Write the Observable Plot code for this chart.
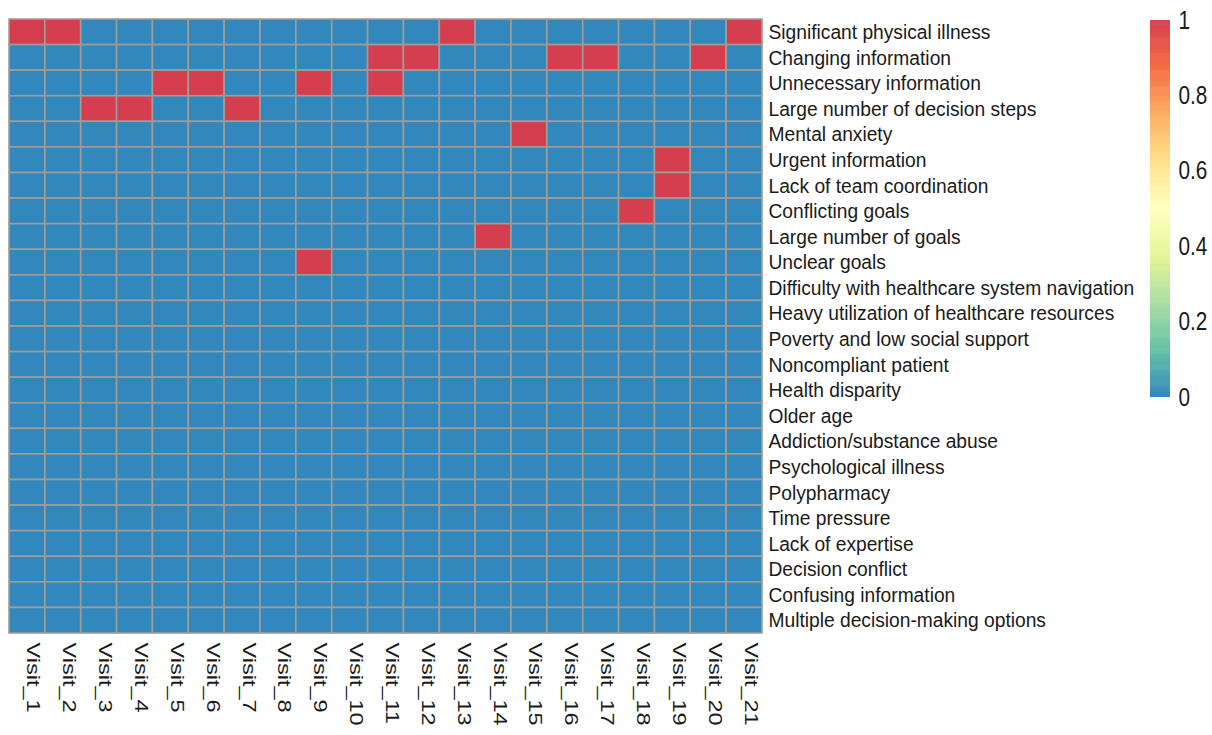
<!DOCTYPE html>
<html><head><meta charset="utf-8">
<script src="https://cdn.jsdelivr.net/npm/d3@7"></script>
<script src="https://cdn.jsdelivr.net/npm/@observablehq/plot@0.6"></script>
<style>
body{margin:0;background:#fff;}
#wrap{position:relative;width:1212px;height:735px;overflow:hidden;}
#main{position:absolute;left:0;top:0;}
#bar{position:absolute;left:1150px;top:0;}
svg text{font-family:"Liberation Sans",Arial,Helvetica,sans-serif;}
</style></head><body>
<div id="wrap"><div id="main"></div><div id="bar"></div></div>
<script>
const visits = ["Visit_1","Visit_2","Visit_3","Visit_4","Visit_5","Visit_6","Visit_7","Visit_8","Visit_9","Visit_10","Visit_11","Visit_12","Visit_13","Visit_14","Visit_15","Visit_16","Visit_17","Visit_18","Visit_19","Visit_20","Visit_21"];
const factors = ["Significant physical illness","Changing information","Unnecessary information","Large number of decision steps","Mental anxiety","Urgent information","Lack of team coordination","Conflicting goals","Large number of goals","Unclear goals","Difficulty with healthcare system navigation","Heavy utilization of healthcare resources","Poverty and low social support","Noncompliant patient","Health disparity","Older age","Addiction/substance abuse","Psychological illness","Polypharmacy","Time pressure","Lack of expertise","Decision conflict","Confusing information","Multiple decision-making options"];
// rows = factors, columns = Visit_1 .. Visit_21
const matrix = [
  [1,1,0,0,0,0,0,0,0,0,0,0,1,0,0,0,0,0,0,0,1],
  [0,0,0,0,0,0,0,0,0,0,1,1,0,0,0,1,1,0,0,1,0],
  [0,0,0,0,1,1,0,0,1,0,1,0,0,0,0,0,0,0,0,0,0],
  [0,0,1,1,0,0,1,0,0,0,0,0,0,0,0,0,0,0,0,0,0],
  [0,0,0,0,0,0,0,0,0,0,0,0,0,0,1,0,0,0,0,0,0],
  [0,0,0,0,0,0,0,0,0,0,0,0,0,0,0,0,0,0,1,0,0],
  [0,0,0,0,0,0,0,0,0,0,0,0,0,0,0,0,0,0,1,0,0],
  [0,0,0,0,0,0,0,0,0,0,0,0,0,0,0,0,0,1,0,0,0],
  [0,0,0,0,0,0,0,0,0,0,0,0,0,1,0,0,0,0,0,0,0],
  [0,0,0,0,0,0,0,0,1,0,0,0,0,0,0,0,0,0,0,0,0],
  [0,0,0,0,0,0,0,0,0,0,0,0,0,0,0,0,0,0,0,0,0],
  [0,0,0,0,0,0,0,0,0,0,0,0,0,0,0,0,0,0,0,0,0],
  [0,0,0,0,0,0,0,0,0,0,0,0,0,0,0,0,0,0,0,0,0],
  [0,0,0,0,0,0,0,0,0,0,0,0,0,0,0,0,0,0,0,0,0],
  [0,0,0,0,0,0,0,0,0,0,0,0,0,0,0,0,0,0,0,0,0],
  [0,0,0,0,0,0,0,0,0,0,0,0,0,0,0,0,0,0,0,0,0],
  [0,0,0,0,0,0,0,0,0,0,0,0,0,0,0,0,0,0,0,0,0],
  [0,0,0,0,0,0,0,0,0,0,0,0,0,0,0,0,0,0,0,0,0],
  [0,0,0,0,0,0,0,0,0,0,0,0,0,0,0,0,0,0,0,0,0],
  [0,0,0,0,0,0,0,0,0,0,0,0,0,0,0,0,0,0,0,0,0],
  [0,0,0,0,0,0,0,0,0,0,0,0,0,0,0,0,0,0,0,0,0],
  [0,0,0,0,0,0,0,0,0,0,0,0,0,0,0,0,0,0,0,0,0],
  [0,0,0,0,0,0,0,0,0,0,0,0,0,0,0,0,0,0,0,0,0],
  [0,0,0,0,0,0,0,0,0,0,0,0,0,0,0,0,0,0,0,0,0]
];
const paletteColors = ["#3288bd","#66c2a5","#abdda4","#e6f598","#ffffbf","#fee08b","#fdae61","#f46d43","#d53e4f"];
const barTicks = [0, 0.2, 0.4, 0.6, 0.8, 1];
const barTickLabels = ["0", "0.2", "0.4", "0.6", "0.8", "1"];

const cells = factors.flatMap((f, i) => visits.map((v, j) => ({factor: f, visit: v, value: matrix[i][j]})));
const colorOpts = {type: "linear", domain: [0, 1], interpolate: d3.piecewise(d3.interpolateRgb, paletteColors)};

const main = Plot.plot({
  width: 1212, height: 735,
  marginLeft: 9, marginRight: 450, marginTop: 19, marginBottom: 102,
  x: {domain: visits, padding: 0, round: false, axis: null},
  y: {domain: factors, padding: 0, round: false, axis: null},
  color: colorOpts,
  marks: [
    Plot.cell(cells, {x: "visit", y: "factor", fill: "value", stroke: "#a39c96", strokeWidth: 1.6, inset: 0}),
    Plot.text(factors, {y: d => d, frameAnchor: "right", dx: 6, textAnchor: "start", fontSize: 21, fill: "#1a1a1a"}),
    Plot.text(visits, {x: d => d, frameAnchor: "bottom", dy: 9, rotate: 90, textAnchor: "start", fontSize: 23.5, fill: "#1a1a1a"})
  ]
});
document.getElementById("main").appendChild(main);

const step = 0.0025;
const stops = d3.range(0, 1, step);
const bar = Plot.plot({
  width: 62, height: 735,
  marginLeft: 0, marginRight: 42, marginTop: 20, marginBottom: 338,
  style: {fontSize: "25px", color: "#1a1a1a", background: "transparent"},
  x: {domain: [0, 1], axis: null},
  y: {domain: [0, 1], axis: "right", ticks: barTicks, tickFormat: d => barTickLabels[barTicks.indexOf(d)], tickSize: 0, tickPadding: 8, label: null},
  color: colorOpts,
  marks: [
    Plot.rect(stops, {x1: 0, x2: 1, y1: d => d, y2: d => Math.min(1, d + step * 1.6), fill: d => d + step / 2})
  ]
});
document.getElementById("bar").appendChild(bar);

function num(v) { const n = parseFloat(v); return isFinite(n) && !/em/.test(v || "") ? n : 0; }
function squeeze(el, sx, sy) {
  const x = num(el.getAttribute("x")), y = num(el.getAttribute("y"));
  const t = el.getAttribute("transform") || "";
  el.setAttribute("transform", `${t} translate(${x},${y}) scale(${sx},${sy}) translate(${-x},${-y})`);
}
d3.select(main).selectAll("text").each(function() {
  const t = this.getAttribute("transform") || "";
  if (/rotate/.test(t)) squeeze(this, 1, 0.8); else squeeze(this, 0.915, 1);
});
d3.select(bar).selectAll("text").each(function() { squeeze(this, 0.83, 1); });
</script>
</body></html>
